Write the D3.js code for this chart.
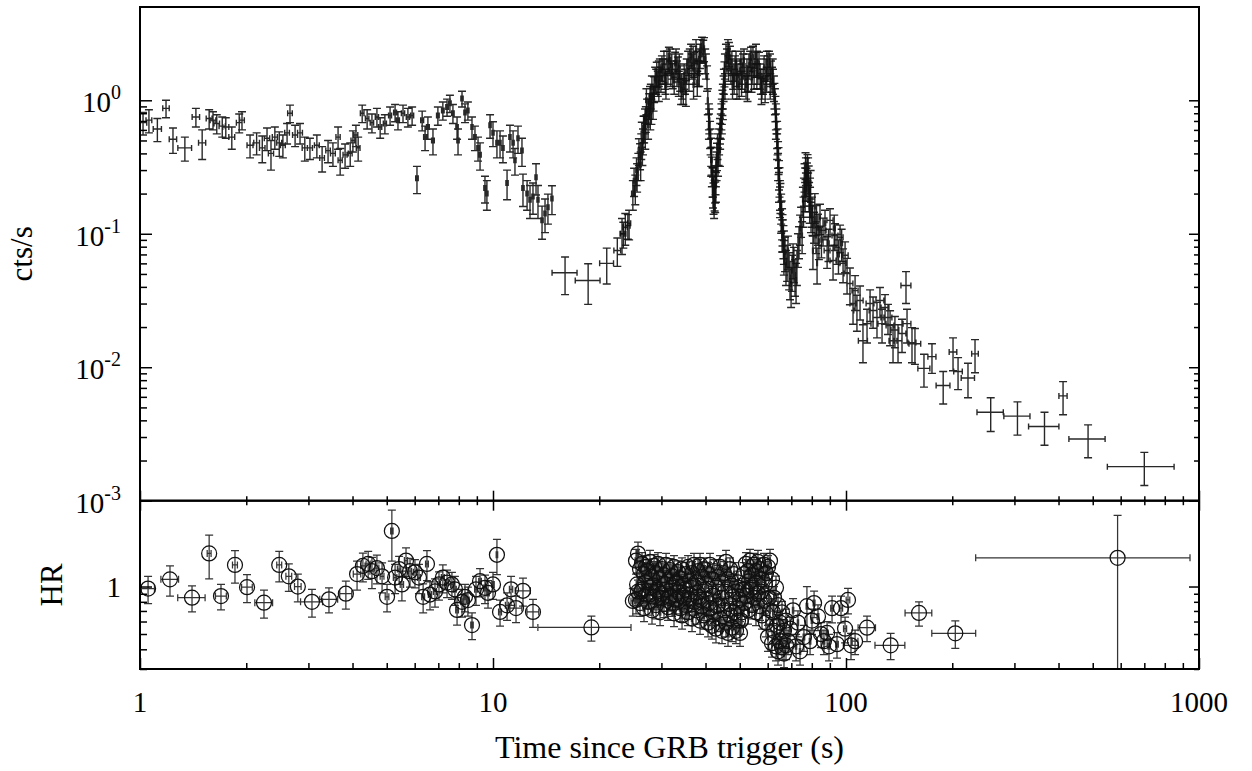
<!DOCTYPE html>
<html><head><meta charset="utf-8">
<script src="https://cdn.jsdelivr.net/npm/d3@7"></script>
<style>
body{margin:0;background:#fff}
svg{display:block}
text{font-family:"Liberation Serif","Times New Roman",serif;fill:#000}
</style>
</head><body>
<svg id="chart" width="1252" height="771"></svg>
<script>
// ---------- DATA: [time (s), time half-width, value, value error] ----------
const lcEarly = [
[1.02,0.025,0.68,0.13],[1.06,0.02,0.71,0.14],[1.12,0.03,0.61,0.12],[1.185,0.025,0.87,0.13],
[1.24,0.03,0.51,0.11],[1.34,0.06,0.44,0.09],[1.44,0.035,0.75,0.12],[1.50,0.035,0.48,0.12],
[1.57,0.03,0.73,0.12],[1.61,0.03,0.71,0.11],[1.65,0.03,0.67,0.11],[1.71,0.035,0.64,0.11],
[1.75,0.035,0.63,0.11],[1.82,0.035,0.53,0.10],[1.91,0.035,0.68,0.11],[1.945,0.03,0.71,0.11],
[2.05,0.04,0.46,0.09],[2.14,0.04,0.48,0.09],[2.22,0.04,0.44,0.10],[2.29,0.04,0.52,0.10],
[2.35,0.04,0.40,0.10],[2.41,0.04,0.53,0.10],[2.48,0.04,0.48,0.10],[2.54,0.04,0.46,0.09],
[2.61,0.04,0.57,0.10],[2.66,0.04,0.80,0.12],[2.75,0.045,0.55,0.10],[2.84,0.045,0.57,0.10],
[2.93,0.05,0.44,0.09],[3.03,0.05,0.44,0.08],[3.17,0.05,0.46,0.09],[3.28,0.05,0.37,0.08],
[3.41,0.05,0.42,0.08],[3.52,0.055,0.40,0.08],[3.64,0.05,0.53,0.10],[3.69,0.05,0.355,0.08],
[3.81,0.05,0.39,0.08],[3.94,0.05,0.40,0.08],[4.01,0.05,0.50,0.09],[4.09,0.05,0.55,0.10],
[4.15,0.05,0.44,0.09],[4.26,0.05,0.80,0.12],[4.40,0.05,0.73,0.12],[4.54,0.05,0.68,0.11],
[4.69,0.05,0.75,0.12],[4.79,0.05,0.63,0.11],[4.94,0.05,0.67,0.11],[5.11,0.05,0.77,0.12],
[5.28,0.05,0.81,0.12],[5.38,0.05,0.71,0.11]
];
const lcMid = [
[5.56,0.06,0.80,0.12],[5.74,0.06,0.75,0.12],[5.90,0.06,0.77,0.12],[6.09,0.05,0.26,0.06],
[6.30,0.06,0.71,0.12],[6.42,0.06,0.53,0.11],[6.54,0.06,0.63,0.12],[6.76,0.06,0.50,0.11],
[6.98,0.06,0.77,0.12],[7.21,0.06,0.84,0.13],[7.41,0.06,0.89,0.13],[7.55,0.06,0.95,0.14],
[7.70,0.06,0.80,0.13],[7.91,0.06,0.63,0.12],[7.96,0.06,0.50,0.11],[8.17,0.06,1.03,0.14],
[8.33,0.06,0.81,0.13],[8.49,0.06,0.84,0.13],[8.72,0.06,0.63,0.12],[8.89,0.07,0.53,0.11],
[9.07,0.07,0.44,0.09],[9.19,0.07,0.39,0.09],[9.49,0.07,0.22,0.05],[9.61,0.07,0.20,0.05],
[9.81,0.07,0.65,0.13],[10.0,0.07,0.57,0.12],[10.26,0.07,0.48,0.11],[10.47,0.07,0.48,0.11],
[10.67,0.08,0.44,0.10],[10.96,0.08,0.24,0.06],[11.17,0.08,0.53,0.12],[11.40,0.08,0.48,0.11],
[11.54,0.08,0.355,0.08],[11.77,0.08,0.52,0.12],[12.08,0.09,0.42,0.10],[12.16,0.09,0.22,0.06],
[12.49,0.09,0.20,0.05],[12.73,0.09,0.18,0.05],[12.98,0.09,0.19,0.05],[13.24,0.09,0.265,0.07],
[13.41,0.09,0.18,0.05],[13.77,0.10,0.126,0.035],[14.04,0.10,0.142,0.04],[14.31,0.10,0.158,0.04],
[14.69,0.10,0.184,0.045],[16.0,1.3,0.051,0.016],[18.6,1.5,0.0446,0.015],[21.0,0.95,0.060,0.018],
[22.5,0.5,0.075,0.018],[23.4,0.4,0.100,0.022],[24.1,0.35,0.115,0.024]
];
const lcFlare = [
[23.2,0.3,0.100,0.03],[23.7,0.3,0.112,0.03],[24.3,0.25,0.12,0.03],[24.9,0.2,0.20,0.05],
[25.3,0.15,0.22,0.055],[25.6,0.15,0.27,0.065],[25.8,0.12,0.325,0.075],[26.1,0.12,0.387,0.085],
[26.3,0.12,0.46,0.1],[26.4,0.12,0.565,0.12],[26.6,0.12,0.50,0.11],[26.96,0.12,0.71,0.15],
[27.3,0.12,0.84,0.18],[27.5,0.12,0.65,0.14],[27.85,0.12,1.05,0.22],[27.9,0.12,0.77,0.17],
[28.2,0.12,1.25,0.27],[28.4,0.12,0.92,0.2],[28.8,0.12,1.46,0.31],[29.1,0.12,1.59,0.34],
[29.3,0.12,1.36,0.29],[29.7,0.12,1.68,0.36],[30.1,0.12,1.77,0.38],[30.7,0.12,1.54,0.33],
[31.1,0.12,1.93,0.4],[31.3,0.12,1.68,0.36],[31.7,0.12,2.0,0.42],[32.1,0.12,1.83,0.39],
[32.8,0.12,1.89,0.4],[33.2,0.12,1.62,0.35],[33.4,0.12,1.74,0.37],[33.9,0.12,1.49,0.32],
[34.3,0.12,1.30,0.28],[35.0,0.12,1.41,0.3],[35.4,0.12,1.68,0.36],[36.1,0.12,2.0,0.42],
[36.6,0.12,1.83,0.39],[36.9,0.12,2.10,0.44],[37.3,0.12,1.68,0.36],[37.8,0.12,1.93,0.4],
[37.9,0.12,1.36,0.29],[38.6,0.12,2.18,0.45],[39.1,0.12,2.55,0.42],[39.4,0.12,2.37,0.45],
[39.9,0.12,2.0,0.42],[40.4,0.12,1.49,0.32],[40.6,0.12,1.0,0.22],[40.9,0.12,0.77,0.17],
[41.2,0.12,0.565,0.13],[41.5,0.12,0.42,0.1],[41.7,0.12,0.30,0.075],[42.0,0.12,0.211,0.055],
[42.3,0.12,0.178,0.048],[42.6,0.12,0.23,0.06],[42.8,0.12,0.30,0.075],[43.1,0.12,0.387,0.09],
[43.7,0.12,0.50,0.11],[43.95,0.12,0.42,0.1],[44.2,0.12,0.65,0.14],[44.5,0.12,0.84,0.18],
[44.8,0.12,1.09,0.23],[45.1,0.12,1.41,0.3],[45.4,0.12,1.83,0.39],[45.7,0.12,2.18,0.45],
[46.3,0.12,2.37,0.48],[46.9,0.12,2.10,0.44],[47.5,0.12,1.93,0.4],[47.9,0.12,1.54,0.33],
[48.5,0.12,1.77,0.38],[49.1,0.12,1.30,0.28],[49.4,0.12,1.54,0.33],[50.1,0.12,1.68,0.36],
[51.1,0.12,1.83,0.39],[51.7,0.12,1.46,0.31],[52.4,0.12,1.68,0.36],[53.5,0.12,1.93,0.4],
[54.2,0.12,1.68,0.36],[54.5,0.12,2.10,0.44],[55.2,0.12,1.89,0.4],[56.0,0.12,1.93,0.4],
[57.1,0.12,1.54,0.33],[57.8,0.12,1.30,0.28],[58.2,0.12,1.41,0.3],[59.3,0.12,1.68,0.36],
[60.1,0.12,1.77,0.38],[60.5,0.12,1.93,0.4],[61.3,0.12,1.62,0.35],[61.7,0.12,1.46,0.31],
[62.5,0.12,1.25,0.27],[62.9,0.12,1.0,0.22],[63.3,0.12,0.77,0.17],[63.8,0.12,0.565,0.13],
[64.2,0.12,0.40,0.09],[64.6,0.12,0.283,0.07],[65.0,0.12,0.20,0.05],[65.5,0.12,0.158,0.04],
[65.9,0.12,0.122,0.032],[66.3,0.12,0.10,0.027],[66.7,0.12,0.082,0.023],[67.2,0.15,0.073,0.021],
[68.1,0.15,0.063,0.019],[68.5,0.15,0.075,0.021],[69.0,0.15,0.055,0.017],[69.4,0.15,0.047,0.015],
[70.3,0.15,0.053,0.016],[71.2,0.15,0.061,0.018],[71.7,0.15,0.049,0.015],[72.6,0.15,0.058,0.017],
[73.1,0.15,0.078,0.022],[73.6,0.15,0.089,0.024],[74.6,0.15,0.126,0.032],[75.1,0.15,0.097,0.026],
[75.5,0.15,0.178,0.045],[76.0,0.15,0.211,0.05],[76.6,0.15,0.251,0.06],[77.0,0.15,0.30,0.07],
[77.5,0.15,0.274,0.065],[78.1,0.15,0.23,0.055],[78.6,0.15,0.194,0.048],[79.1,0.15,0.178,0.045],
[80.1,0.2,0.150,0.038],[80.6,0.2,0.075,0.021],[81.2,0.2,0.115,0.03],[82.2,0.2,0.097,0.026],
[82.8,0.2,0.060,0.018],[83.3,0.2,0.111,0.029],[84.4,0.2,0.1325,0.034]
];
const lcFlare2 = [
[29.9,0.12,1.46,0.31],[30.5,0.12,1.93,0.4],[30.9,0.12,1.30,0.28],[31.5,0.12,2.07,0.43],
[31.9,0.12,1.62,0.35],[32.6,0.12,1.41,0.3],[33.0,0.12,2.0,0.42],[33.7,0.12,1.83,0.39],
[34.1,0.12,1.19,0.26],[34.8,0.12,1.54,0.33],[35.2,0.12,1.15,0.25],[35.7,0.12,1.93,0.4],
[36.4,0.12,2.18,0.45],[37.1,0.12,1.89,0.4],[37.6,0.12,2.37,0.48],[38.1,0.12,1.62,0.35],
[38.35,0.12,2.0,0.42],[38.8,0.12,2.37,0.48],[39.6,0.12,2.45,0.5],[40.1,0.12,1.83,0.39],
[46.0,0.12,2.0,0.42],[46.6,0.12,2.25,0.46],[47.2,0.12,1.68,0.36],[48.2,0.12,1.41,0.3],
[48.8,0.12,1.93,0.4],[49.8,0.12,1.30,0.28],[50.4,0.12,1.93,0.4],[50.8,0.12,1.54,0.33],
[51.4,0.12,2.0,0.42],[52.1,0.12,1.30,0.28],[52.8,0.12,1.49,0.32],[53.1,0.12,1.83,0.39],
[53.8,0.12,2.07,0.43],[54.9,0.12,1.54,0.33],[55.6,0.12,2.18,0.45],[56.3,0.12,1.68,0.36],
[56.7,0.12,1.89,0.4],[57.4,0.12,1.41,0.3],[58.6,0.12,1.77,0.38],[59.0,0.12,1.23,0.27],
[59.7,0.12,1.93,0.4],[60.9,0.12,1.83,0.39],[62.1,0.12,1.41,0.3],
[26.8,0.12,0.62,0.14],[27.1,0.12,0.735,0.16],[27.7,0.12,0.92,0.2],[28.0,0.12,1.09,0.23],
[28.6,0.12,1.23,0.27],[29.0,0.12,1.41,0.3],[29.5,0.12,1.62,0.35],[30.3,0.12,1.68,0.36],
[40.9,0.12,0.65,0.14],[41.5,0.12,0.355,0.085],[42.0,0.12,0.25,0.062],[42.6,0.12,0.194,0.05],
[42.8,0.12,0.23,0.058],[43.4,0.12,0.355,0.085],[43.95,0.12,0.60,0.13],[44.5,0.12,0.71,0.15],
[44.8,0.12,0.917,0.2],[45.4,0.12,1.30,0.28],
[63.3,0.12,0.65,0.14],[63.8,0.12,0.46,0.1],[64.2,0.12,0.325,0.075],[64.6,0.12,0.23,0.058],
[65.0,0.12,0.178,0.046],[65.5,0.12,0.137,0.036],[65.9,0.12,0.10,0.027],[66.7,0.12,0.069,0.02],
[67.6,0.15,0.058,0.017],[69.9,0.15,0.042,0.014],[70.8,0.15,0.065,0.019],[72.2,0.15,0.045,0.015],
[74.1,0.15,0.11,0.028],[76.6,0.15,0.194,0.048],[77.0,0.15,0.23,0.055],[78.1,0.15,0.30,0.07],
[79.1,0.15,0.211,0.05],[79.6,0.15,0.137,0.035]
];
const lcFlare3 = [
[29.5,0.12,1.25,0.27],[30.8,0.12,1.41,0.3],[32.3,0.12,1.55,0.33],[33.6,0.12,1.36,0.29],
[34.6,0.12,1.19,0.26],[35.9,0.12,1.49,0.32],[37.0,0.12,1.30,0.28],[38.4,0.12,1.62,0.35],
[46.5,0.12,1.77,0.38],[47.7,0.12,1.30,0.28],[49.0,0.12,1.62,0.35],[50.6,0.12,1.36,0.29],
[52.6,0.12,1.25,0.27],[54.0,0.12,1.46,0.31],[55.9,0.12,1.55,0.33],[57.6,0.12,1.19,0.26],
[59.6,0.12,1.46,0.31],[61.0,0.12,1.30,0.28],[62.0,0.12,1.68,0.36],
[25.1,0.12,0.25,0.06],[25.5,0.12,0.30,0.07],[25.9,0.12,0.42,0.095],[26.2,0.12,0.33,0.08],
[26.5,0.12,0.42,0.095],[26.7,0.12,0.62,0.14],[27.0,0.12,0.55,0.12],[27.2,0.12,1.0,0.22],
[27.6,0.12,0.84,0.18],[28.1,0.12,0.84,0.18],[28.5,0.12,1.05,0.22],
[62.7,0.12,1.10,0.24],[63.1,0.12,0.88,0.19],[63.5,0.12,0.71,0.15],[64.0,0.12,0.50,0.11],
[64.4,0.12,0.36,0.082],[64.8,0.12,0.25,0.062],[65.2,0.12,0.19,0.048],[65.7,0.12,0.14,0.036],
[66.1,0.12,0.11,0.029],[66.5,0.12,0.09,0.025],
[41.0,0.12,0.71,0.15],[41.35,0.12,0.50,0.11],[41.6,0.12,0.36,0.085],[41.85,0.12,0.25,0.062],
[42.15,0.12,0.19,0.05],[42.45,0.12,0.20,0.052],[42.7,0.12,0.26,0.064],[43.0,0.12,0.33,0.08],
[43.25,0.12,0.46,0.1],[43.55,0.12,0.42,0.095],[44.0,0.12,0.55,0.12],[44.35,0.12,0.77,0.17],
[44.65,0.12,0.98,0.21],[45.0,0.12,1.25,0.27],[45.25,0.12,1.6,0.34],
[75.8,0.15,0.15,0.038],[76.3,0.15,0.27,0.065],[76.8,0.15,0.33,0.075],[77.3,0.15,0.25,0.06],
[77.8,0.15,0.32,0.072],[78.4,0.15,0.26,0.062],[78.9,0.15,0.16,0.04],[79.4,0.15,0.24,0.058],
[80.4,0.2,0.13,0.033],[81.6,0.2,0.16,0.04],[82.5,0.2,0.13,0.033],[83.8,0.2,0.088,0.024],
[85.2,0.3,0.09,0.024],[87.2,0.4,0.12,0.03],[89.2,0.4,0.085,0.023],[92.6,0.5,0.11,0.028],
[95.2,0.5,0.07,0.02],[97.2,0.5,0.085,0.023]
];
const lcTail = [
[86.1,1.7,0.106,0.025],[88.4,1.7,0.075,0.02],[90.1,1.8,0.126,0.028],[91.9,1.8,0.063,0.018],
[93.1,1.8,0.097,0.022],[94.3,1.9,0.079,0.02],[96.2,1.9,0.094,0.022],[98.1,2,0.060,0.017],
[99.4,2,0.069,0.018],[100.7,2,0.0504,0.015],[102.6,2,0.0424,0.013],[104.7,2.1,0.030,0.009],
[106.1,2.1,0.0376,0.011],[107.4,2.2,0.0266,0.008],[109.6,2.2,0.0316,0.009],[111.7,3.3,0.0158,0.005],
[114.7,3,0.0212,0.006],[117.0,3,0.030,0.008],[119.3,3,0.0266,0.007],[122.4,3.2,0.0236,0.007],
[124.8,3.2,0.0316,0.008],[126.5,3.3,0.0212,0.006],[129.0,3.3,0.028,0.007],[131.5,3.4,0.0236,0.006],
[133.3,3.4,0.0205,0.006],[135.9,3.5,0.0158,0.005],[137.6,3.5,0.019,0.005],[140.4,3.6,0.0158,0.005],
[144.1,3.7,0.0179,0.005],[147.9,4.8,0.041,0.011],[148.9,3.8,0.0212,0.006],[153.8,4,0.0153,0.0045],
[156.8,6,0.0150,0.0045],[166.3,6.5,0.0098,0.0027],[175.2,4.6,0.012,0.003],[188.5,8.5,0.0073,0.002],
[201,5,0.013,0.0036],[207.7,5.8,0.0093,0.0025],[221.6,9.6,0.0083,0.0024],[232,5,0.0126,0.0035],
[257,22,0.0046,0.0013],[306,26,0.0043,0.0012],[365,36,0.0036,0.001],[412,11,0.0061,0.0017],
[485,57,0.0029,0.0008],[700,150,0.0018,0.0005]
];
const hrEarly = [
[1.054,0.045,0.97,0.19],[1.216,0.07,1.11,0.24],[1.404,0.125,0.85,0.16],[1.57,0.02,1.62,0.5],
[1.696,0.06,0.87,0.16],[1.858,0.03,1.37,0.32],[2.01,0.07,0.99,0.2],[2.245,0.13,0.79,0.16],
[2.48,0.04,1.37,0.3],[2.64,0.05,1.16,0.23],[2.80,0.06,1.0,0.2],[3.07,0.22,0.80,0.16],
[3.43,0.2,0.83,0.15],[3.83,0.15,0.90,0.18],[4.12,0.1,1.20,0.25],[4.28,0.06,1.35,0.28],
[4.43,0.06,1.39,0.28],[4.54,0.06,1.25,0.28],[4.69,0.06,1.31,0.27],[4.85,0.06,1.16,0.25],
[5.01,0.06,0.86,0.17],[5.17,0.04,2.25,0.8],[5.28,0.06,1.14,0.24],[5.42,0.06,1.29,0.26],
[5.52,0.06,1.03,0.22],[5.67,0.06,1.46,0.3],[5.82,0.06,1.25,0.26],[6.01,0.06,1.23,0.25],
[6.17,0.06,1.14,0.24],[6.34,0.06,0.86,0.18],[6.50,0.06,1.39,0.3],[6.63,0.07,0.89,0.18],
[6.85,0.07,0.93,0.19],[7.03,0.07,1.03,0.21],[7.21,0.07,1.14,0.23],[7.41,0.07,1.06,0.21],
[7.65,0.07,1.03,0.2],[7.80,0.07,0.96,0.2],[7.91,0.07,0.71,0.14],[8.17,0.07,0.80,0.16],
[8.33,0.07,0.86,0.17],[8.49,0.07,0.82,0.17],[8.72,0.07,0.57,0.11],[8.95,0.08,0.96,0.2],
[9.19,0.08,1.08,0.22],[9.49,0.08,0.98,0.2],[9.68,0.08,0.91,0.18],[10.0,0.08,1.03,0.2],
[10.26,0.05,1.59,0.4],[10.47,0.1,0.69,0.13],[10.96,0.12,0.76,0.15],[11.25,0.12,0.96,0.2],
[11.62,0.45,0.73,0.14],[12.16,0.6,0.94,0.19],[12.98,0.5,0.69,0.14],[19.0,5.6,0.55,0.1],
[24.9,0.3,0.81,0.16]
];
const hrFlareUpper = [
[25.42,0.15,1.457,0.26],[25.75,0.15,1.619,0.29],[26.09,0.15,1.291,0.23],[26.43,0.15,1.393,0.25],
[26.78,0.15,1.198,0.22],[27.13,0.15,1.331,0.24],[27.49,0.15,1.253,0.23],[27.85,0.15,1.435,0.26],
[28.21,0.15,1.145,0.21],[28.59,0.15,1.351,0.24],[28.96,0.15,1.216,0.22],[29.34,0.15,1.393,0.25],
[29.73,0.15,1.111,0.2],[30.12,0.15,1.291,0.23],[30.51,0.15,1.180,0.21],[30.92,0.15,1.372,0.25],
[31.32,0.15,1.078,0.19],[31.73,0.15,1.272,0.23],[32.15,0.15,1.162,0.21],[32.57,0.15,1.331,0.24],
[33.0,0.15,1.046,0.19],[33.44,0.15,1.234,0.22],[33.88,0.15,1.128,0.2],[34.32,0.15,1.291,0.23],
[34.77,0.15,1.015,0.18],[35.23,0.15,1.198,0.22],[35.69,0.15,1.331,0.24],[36.16,0.15,1.094,0.2],
[36.63,0.15,1.216,0.22],[37.11,0.15,1.372,0.25],[37.60,0.15,1.062,0.19],[38.09,0.15,1.253,0.23],
[38.59,0.15,1.372,0.25],[39.10,0.15,1.145,0.21],[39.61,0.15,1.291,0.23],[40.13,0.15,1.031,0.19],
[40.66,0.15,1.198,0.22],[41.19,0.15,1.372,0.25],[41.73,0.15,1.111,0.2],[42.28,0.15,1.253,0.23],
[42.83,0.15,0.985,0.18],[43.40,0.15,1.145,0.21],[43.97,0.15,1.331,0.24],[44.54,0.15,1.046,0.19],
[45.13,0.15,1.216,0.22],[45.72,0.15,1.435,0.26],[46.32,0.15,1.111,0.2],[46.93,0.15,1.291,0.23],
[47.54,0.15,1.015,0.18],[48.17,0.15,1.198,0.22],[48.80,0.15,0.928,0.17],[49.44,0.15,1.062,0.19],
[50.09,0.15,0.822,0.15],[50.75,0.15,0.956,0.17],[51.41,0.15,1.198,0.22],[52.09,0.15,1.393,0.25],
[52.77,0.15,1.253,0.23],[53.46,0.15,1.457,0.26],[54.16,0.15,1.180,0.21],[54.87,0.15,1.372,0.25],
[55.59,0.15,1.253,0.23],[56.32,0.15,1.435,0.26],[57.06,0.15,1.291,0.23],[57.81,0.15,1.111,0.2],
[58.57,0.15,1.372,0.25],[59.34,0.15,1.216,0.22],[60.12,0.15,1.331,0.24],[60.91,0.15,1.457,0.26],
[61.71,0.15,1.111,0.2],[62.52,0.15,0.848,0.15],[63.34,0.15,0.985,0.18],[64.17,0.15,0.763,0.14],
[65.01,0.15,0.590,0.11],[65.87,0.15,0.686,0.12],[66.73,0.15,0.524,0.09],[67.61,0.15,0.608,0.11]
];
const hrFlareMiddle = [
[25.6,0.15,1.031,0.19],[26.3,0.15,0.928,0.17],[27.0,0.15,1.062,0.19],[27.7,0.15,0.887,0.16],
[28.4,0.15,1.015,0.18],[29.15,0.15,0.956,0.17],[29.9,0.15,0.90,0.16],[30.7,0.15,1.031,0.19],
[31.5,0.15,0.848,0.15],[32.4,0.15,0.985,0.18],[33.2,0.15,1.046,0.19],[34.1,0.15,0.873,0.16],
[35.0,0.15,0.956,0.17],[35.9,0.15,0.835,0.15],[36.9,0.15,1.015,0.18],[37.85,0.15,0.914,0.16],
[38.85,0.15,0.822,0.15],[39.85,0.15,0.956,0.17],[40.9,0.15,0.786,0.14],[42.0,0.15,0.873,0.16],
[43.1,0.15,0.751,0.14],[44.25,0.15,0.848,0.15],[45.4,0.15,0.928,0.17],[46.6,0.15,0.774,0.14],
[47.85,0.15,0.860,0.15],[49.1,0.15,0.729,0.13],[50.4,0.15,0.608,0.11],[51.75,0.15,0.956,0.17],
[53.1,0.15,1.078,0.19],[54.5,0.15,0.985,0.18],[55.95,0.15,1.046,0.19],[57.4,0.15,0.928,0.17],
[58.95,0.15,1.031,0.19],[60.5,0.15,0.848,0.15],[62.1,0.15,0.686,0.12],[63.75,0.15,0.564,0.1]
];
const hrFlareLower = [
[25.42,0.15,0.822,0.15],[25.75,0.15,0.928,0.17],[26.09,0.15,0.786,0.14],[26.43,0.15,0.956,0.17],
[26.78,0.15,0.729,0.13],[27.13,0.15,0.887,0.16],[27.49,0.15,0.798,0.14],[27.85,0.15,0.985,0.18],
[28.21,0.15,0.707,0.13],[28.59,0.15,0.860,0.15],[28.96,0.15,0.763,0.14],[29.34,0.15,0.928,0.17],
[29.73,0.15,0.686,0.12],[30.12,0.15,0.848,0.15],[30.51,0.15,0.774,0.14],[30.92,0.15,0.956,0.17],
[31.32,0.15,0.740,0.13],[31.73,0.15,0.873,0.16],[32.15,0.15,0.786,0.14],[32.57,0.15,0.676,0.12],
[33.0,0.15,0.822,0.15],[33.44,0.15,0.928,0.17],[33.88,0.15,0.729,0.13],[34.32,0.15,0.656,0.12],
[34.77,0.15,0.848,0.15],[35.23,0.15,0.763,0.14],[35.69,0.15,0.686,0.12],[36.16,0.15,0.887,0.16],
[36.63,0.15,0.627,0.11],[37.11,0.15,0.798,0.14],[37.60,0.15,0.707,0.13],[38.09,0.15,0.860,0.15],
[38.59,0.15,0.608,0.11],[39.10,0.15,0.751,0.14],[39.61,0.15,0.656,0.12],[40.13,0.15,0.822,0.15],
[40.66,0.15,0.590,0.11],[41.19,0.15,0.729,0.13],[41.73,0.15,0.564,0.1],[42.28,0.15,0.686,0.12],
[42.83,0.15,0.540,0.1],[43.40,0.15,0.763,0.14],[43.97,0.15,0.627,0.11],[44.54,0.15,0.524,0.09],
[45.13,0.15,0.707,0.13],[45.72,0.15,0.590,0.11],[46.32,0.15,0.508,0.09],[46.93,0.15,0.656,0.12],
[47.54,0.15,0.548,0.1],[48.17,0.15,0.686,0.12],[48.80,0.15,0.524,0.09],[49.44,0.15,0.608,0.11],
[50.09,0.15,0.508,0.09],[50.75,0.15,0.686,0.12],[51.41,0.15,0.786,0.14],[52.09,0.15,0.873,0.16],
[52.77,0.15,0.707,0.13],[53.46,0.15,0.956,0.17],[54.16,0.15,0.763,0.14],[54.87,0.15,0.848,0.15],
[55.59,0.15,0.686,0.12],[56.32,0.15,0.900,0.16],[57.06,0.15,0.751,0.14],[57.81,0.15,0.656,0.12],
[58.57,0.15,0.822,0.15],[59.34,0.15,0.590,0.11],[60.12,0.15,0.478,0.09],[60.91,0.15,0.707,0.13],
[61.71,0.15,0.437,0.08],[62.52,0.15,0.524,0.09],[63.34,0.15,0.418,0.08],[64.17,0.15,0.388,0.07],
[65.01,0.15,0.450,0.08],[65.87,0.15,0.412,0.07],[66.73,0.15,0.376,0.07],[67.61,0.15,0.424,0.08]
];
const hrTail = [
[68.5,0.3,0.45,0.08],[69.4,0.3,0.54,0.1],[70.8,0.3,0.707,0.13],[72.2,0.3,0.418,0.08],
[73.1,0.3,0.59,0.11],[74.1,0.3,0.388,0.07],[76.0,0.4,0.478,0.09],[77.5,0.4,0.75,0.25],
[79.1,0.4,0.45,0.08],[80.1,0.4,0.608,0.11],[81.2,0.5,0.786,0.15],[83.3,0.5,0.646,0.12],
[84.96,0.5,0.50,0.09],[86.6,0.5,0.45,0.08],[88.4,0.6,0.508,0.09],[89.5,0.6,0.418,0.08],
[91.3,0.8,0.729,0.14],[94.3,0.8,0.431,0.08],[96.8,1.0,0.729,0.14],[99.4,1.0,0.54,0.1],
[101.3,1.2,0.822,0.15],[103.3,5,0.424,0.08],[106.1,2,0.45,0.08],[114.7,6.5,0.548,0.1],
[133.8,13,0.424,0.08],[161,14,0.68,0.12],[204,29,0.505,0.1],[588,355,1.52,1.3]
];
// tick values / labels
const timeTicks = [1, 10, 100, 1000];
const timeTickLabels = ["1", "10", "100", "1000"];
const rateTicks = [0.001, 0.01, 0.1, 1];
const rateTickExp = ["-3", "-2", "-1", "0"];
const hrTicks = [1];
const hrTickLabels = ["1"];
const hrMinorTicks = [0.3, 0.4, 0.5, 0.6, 0.7, 0.8, 0.9];
const minorMultipliers = [2, 3, 4, 5, 6, 7, 8, 9];

// ---------- LAYOUT ----------
const W = 1252, H = 771;
const L = 140, R = 1199, T = 7, M = 500.7, B = 669;
const svg = d3.select("#chart");
svg.append("rect").attr("width", W).attr("height", H).attr("fill", "#fff");

const x = d3.scaleLog().domain([1, 1000]).range([L, R]);
const yRate = d3.scaleLog().domain([0.001, 5]).range([M, T]);
const yHR = d3.scaleLog().domain([0.3, 3.5]).range([B, M]);

const defs = svg.append("defs");
defs.append("clipPath").attr("id", "clipTop").append("rect")
  .attr("x", L).attr("y", T).attr("width", R - L).attr("height", M - T);
defs.append("clipPath").attr("id", "clipBot").append("rect")
  .attr("x", L).attr("y", M).attr("width", R - L).attr("height", B - M);

function barPath(data, ys, capY, capX) {
  let p = "";
  const floor = ys.range()[0] + 60;
  data.forEach(([t, dt, v, dv]) => {
    const cx = x(t), cy = ys(v);
    const lo = (v - dv) > 0 ? ys(v - dv) : floor;
    const hi = ys(v + dv);
    const xl = x(Math.max(t - dt, 0.01)), xr = x(t + dt);
    p += `M${cx},${lo}V${hi}`;
    p += `M${cx - capY},${lo}H${cx + capY}M${cx - capY},${hi}H${cx + capY}`;
    p += `M${xl},${cy}H${xr}`;
    p += `M${xl},${cy - capX}V${cy + capX}M${xr},${cy - capX}V${cy + capX}`;
  });
  return p;
}

// top panel
const gTop = svg.append("g").attr("clip-path", "url(#clipTop)");
[lcEarly, lcMid, lcFlare, lcFlare2, lcFlare3, lcTail].forEach(ds => {
  gTop.append("path").attr("d", barPath(ds, yRate, 4, 3))
    .attr("fill", "none").attr("stroke", "#111").attr("stroke-width", 1.4)
    .attr("stroke-opacity", 0.9);
});

// bottom panel
const gBot = svg.append("g").attr("clip-path", "url(#clipBot)");
const hrAll = hrEarly.concat(hrFlareUpper, hrFlareMiddle, hrFlareLower, hrTail);
gBot.append("path").attr("d", barPath(hrAll, yHR, 4, 3.5))
  .attr("fill", "none").attr("stroke", "#111").attr("stroke-width", 1.25)
  .attr("stroke-opacity", 0.85);
gBot.selectAll("circle").data(hrAll).join("circle")
  .attr("cx", d => x(d[0])).attr("cy", d => yHR(d[2])).attr("r", 7.5)
  .attr("fill", "none").attr("stroke", "#111").attr("stroke-width", 1.25);

// ---------- AXES ----------
const timeMinor = [1, 10, 100].flatMap(d => minorMultipliers.map(k => k * d));
const rateMinor = [0.001, 0.01, 0.1].flatMap(d => minorMultipliers.map(k => k * d));

function axis(gen, scale, vals, size, tx, ty) {
  const g = svg.append("g").attr("transform", `translate(${tx},${ty})`)
    .call(gen(scale).tickValues(vals).tickSize(size).tickFormat(""));
  g.select(".domain").remove();
  g.selectAll("line").attr("stroke", "#000").attr("stroke-width", 1.5);
}
axis(d3.axisLeft, yRate, rateTicks, -12, L, 0);
axis(d3.axisLeft, yRate, rateMinor, -7, L, 0);
axis(d3.axisRight, yRate, rateTicks, -10, R, 0);
axis(d3.axisRight, yRate, rateMinor, -5, R, 0);
axis(d3.axisBottom, x, timeTicks, -10, 0, M);
axis(d3.axisBottom, x, timeMinor, -4.5, 0, M);
axis(d3.axisTop, x, timeTicks, -10, 0, M);
axis(d3.axisTop, x, timeMinor, -4.5, 0, M);
axis(d3.axisBottom, x, timeTicks, -11, 0, B);
axis(d3.axisBottom, x, timeMinor, -6, 0, B);
axis(d3.axisLeft, yHR, hrTicks, -12, L, 0);
axis(d3.axisLeft, yHR, hrMinorTicks, -7, L, 0);
axis(d3.axisRight, yHR, hrTicks, -10, R, 0);
axis(d3.axisRight, yHR, hrMinorTicks, -5, R, 0);

svg.append("rect").attr("x", L).attr("y", T).attr("width", R - L).attr("height", M - T)
  .attr("fill", "none").attr("stroke", "#000").attr("stroke-width", 2);
svg.append("rect").attr("x", L).attr("y", M).attr("width", R - L).attr("height", B - M)
  .attr("fill", "none").attr("stroke", "#000").attr("stroke-width", 2);

// ---------- LABELS ----------
rateTicks.forEach((v, i) => {
  const t = svg.append("text").attr("x", 121).attr("y", yRate(v) + 12)
    .attr("text-anchor", "end").attr("font-size", 29);
  t.append("tspan").text("10");
  t.append("tspan").attr("font-size", 20).attr("dy", -13).text(rateTickExp[i]);
});
hrTicks.forEach((v, i) => {
  svg.append("text").attr("x", 121).attr("y", yHR(v) + 10)
    .attr("text-anchor", "end").attr("font-size", 29).text(hrTickLabels[i]);
});
timeTicks.forEach((v, i) => {
  svg.append("text").attr("x", x(v)).attr("y", 712)
    .attr("text-anchor", "middle").attr("font-size", 29).text(timeTickLabels[i]);
});
svg.append("text").attr("x", (L + R) / 2).attr("y", 758)
  .attr("text-anchor", "middle").attr("font-size", 32).text("Time since GRB trigger (s)");
svg.append("text").attr("transform", `translate(32,${(T + M) / 2}) rotate(-90)`)
  .attr("text-anchor", "middle").attr("font-size", 31).text("cts/s");
svg.append("text").attr("transform", `translate(62,${(M + B) / 2}) rotate(-90)`)
  .attr("text-anchor", "middle").attr("font-size", 31).text("HR");
</script>
</body></html>
